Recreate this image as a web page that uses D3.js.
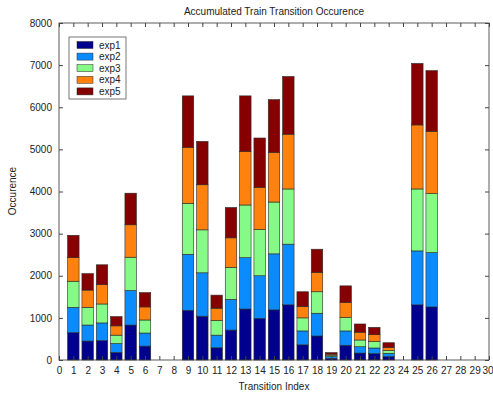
<!DOCTYPE html>
<html><head><meta charset="utf-8">
<script src="https://cdn.jsdelivr.net/npm/d3@7"></script>
<style>body{margin:0;background:#fff}svg{display:block}text{font-family:"Liberation Sans",Arial,sans-serif}</style>
</head><body><svg id="c" width="493" height="396"></svg>
<script>
const categories = d3.range(1, 30);
const seriesNames = ["exp1","exp2","exp3","exp4","exp5"];
const colors = ["#00008f","#0a8cff","#86fa86","#ff820f","#870000"];
const exp1 = [650,450,460,180,830,330,0,0,1180,1040,290,710,1210,990,1190,1310,360,570,40,350,165,150,80,0,1310,1260,0,0,0];
const exp2 = [600,380,420,210,820,310,0,0,1330,1030,300,730,1220,1010,1330,1440,330,540,40,340,150,135,80,0,1280,1290,0,0,0];
const exp3 = [620,420,450,200,790,310,0,0,1210,1020,350,760,1250,1100,1230,1310,310,510,35,320,160,155,65,0,1470,1400,0,0,0];
const exp4 = [560,410,460,220,770,310,0,0,1330,1070,290,700,1270,1000,1180,1300,270,460,25,360,185,160,75,0,1520,1480,0,0,0];
const exp5 = [530,390,470,220,750,340,0,0,1220,1030,310,720,1320,1170,1250,1370,350,550,35,390,195,175,110,0,1460,1440,0,0,0];
const yTicks = d3.range(0, 8001, 1000);
const xTicks = d3.range(0, 31);

const series = [exp1,exp2,exp3,exp4,exp5];
const rows = categories.map((c,i)=>{const o={cat:c}; seriesNames.forEach((n,k)=>o[n]=series[k][i]); return o;});
const stacked = d3.stack().keys(seriesNames)(rows);

const svg = d3.select("#c");
const L=59,R=489,T=23,B=360;
const x = d3.scaleLinear().domain([0,30]).range([L,R]);
const y = d3.scaleLinear().domain([0,8000]).range([B,T]);
const bw = (x(1)-x(0))*0.8;

svg.append("g").selectAll("g").data(stacked).join("g").attr("fill",(d,i)=>colors[i])
 .selectAll("rect").data(d=>d).join("rect")
 .attr("x",d=>x(d.data.cat)-bw/2).attr("width",bw)
 .attr("y",d=>y(d[1])).attr("height",d=>Math.max(0,y(d[0])-y(d[1])))
 .attr("stroke","#2a2a2a").attr("stroke-width",0.6)
 .attr("display",d=>d[1]-d[0]>0?null:"none");

// axes (MATLAB-style inward ticks)
const tl=4;
const ax = svg.append("g").attr("stroke","#333").attr("stroke-width",0.8).attr("fill","none");
ax.append("rect").attr("x",L).attr("y",T).attr("width",R-L).attr("height",B-T);
const xb = d3.axisBottom(x).tickValues(xTicks).tickSizeInner(-tl).tickSizeOuter(0).tickPadding(7).tickFormat(d3.format("d"));
const xt = d3.axisTop(x).tickValues(xTicks).tickSizeInner(-tl).tickSizeOuter(0).tickFormat("");
const yl = d3.axisLeft(y).tickValues(yTicks).tickSizeInner(-tl).tickSizeOuter(0).tickPadding(7).tickFormat(d3.format("d"));
const yr = d3.axisRight(y).tickValues(yTicks).tickSizeInner(-tl).tickSizeOuter(0).tickFormat("");
function style(g){g.select(".domain").remove();g.selectAll("line").attr("stroke","#444");g.selectAll("text").attr("fill","#222").style("font-size","10px");}
const xg = svg.append("g").attr("transform",`translate(0,${B})`).call(xb).call(style);
xg.selectAll(".tick").filter(d=>d===30).select("text").attr("text-anchor","end").attr("dx",4);
svg.append("g").attr("transform",`translate(0,${T})`).call(xt).call(style);
svg.append("g").attr("transform",`translate(${L},0)`).call(yl).call(style);
svg.append("g").attr("transform",`translate(${R},0)`).call(yr).call(style);

svg.append("text").attr("x",274).attr("y",15).attr("text-anchor","middle").attr("fill","#222").style("font-size","10px").text("Accumulated Train Transition Occurence");
svg.append("text").attr("x",274).attr("y",390).attr("text-anchor","middle").attr("fill","#222").style("font-size","10px").text("Transition Index");
svg.append("text").attr("transform","translate(16,191) rotate(-90)").attr("text-anchor","middle").attr("fill","#222").style("font-size","10px").text("Occurence");

// legend
const lg = svg.append("g");
lg.append("rect").attr("x",69).attr("y",37).attr("width",57).attr("height",62).attr("fill","#fff").attr("stroke","#555").attr("stroke-width",0.8);
seriesNames.forEach((n,i)=>{
  const cy = 45+i*11.6;
  lg.append("rect").attr("x",77).attr("y",cy-3.5).attr("width",16).attr("height",7).attr("fill",colors[i]).attr("stroke","#2a2a2a").attr("stroke-width",0.5);
  lg.append("text").attr("x",99).attr("y",cy+3.5).attr("fill","#222").style("font-size","10px").text(n);
});
</script></body></html>
